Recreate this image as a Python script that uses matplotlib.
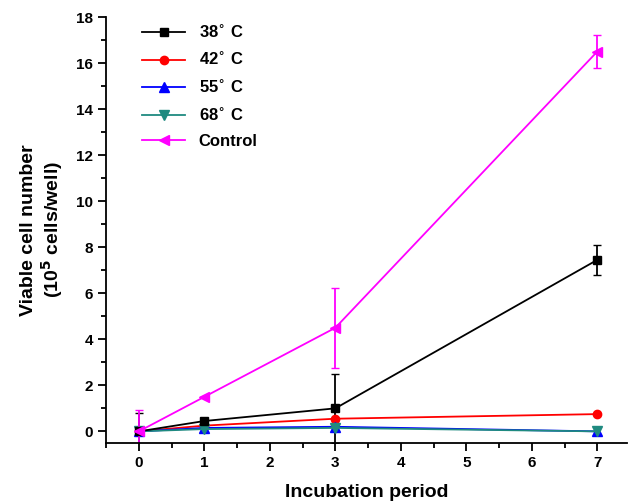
import numpy as np
import matplotlib
matplotlib.use("Agg")
import matplotlib.pyplot as plt
from matplotlib.ticker import MultipleLocator

plt.rcParams['font.family'] = ['Liberation Sans', 'DejaVu Sans']
plt.rcParams['font.weight'] = 'bold'

# incubation days
days = [0, 1, 3, 7]

t38 = [0.0, 0.45, 1.0, 7.45]
t38_err = [0.8, 0.0, 1.5, 0.65]
t42 = [0.0, 0.25, 0.55, 0.75]
t55 = [0.0, 0.15, 0.2, 0.0]
t68 = [0.0, 0.1, 0.15, 0.0]
ctrl = [0.0, 1.5, 4.5, 16.5]
ctrl_err = [0.95, 0.0, 1.75, 0.7]

labels = ['38$^{\\circ}$ C', '42$^{\\circ}$ C', '55$^{\\circ}$ C', '68$^{\\circ}$ C', 'Control']

fig = plt.figure(figsize=(6.28, 5.01), dpi=100)
ax = fig.add_axes([0.169, 0.116, 0.829, 0.85])

e38 = ax.errorbar(days, t38, yerr=t38_err, color='black', marker='s', ms=6,
                  lw=1.3, capsize=3, elinewidth=1.3)
l42, = ax.plot(days, t42, color='red', marker='o', ms=6, lw=1.3)
l55, = ax.plot(days, t55, color='blue', marker='^', ms=7, lw=1.3)
l68, = ax.plot(days, t68, color='#1f8a80', marker='v', ms=7, lw=1.3)
ectl = ax.errorbar(days, ctrl, yerr=ctrl_err, color='#ff00ff', marker='<', ms=7,
                   lw=1.3, capsize=3, elinewidth=1.3)

ax.set_xlim(-0.5, 7.45)
ax.set_ylim(-0.5, 18)
ax.xaxis.set_major_locator(MultipleLocator(1))
ax.xaxis.set_minor_locator(MultipleLocator(0.5))
ax.yaxis.set_major_locator(MultipleLocator(2))
ax.yaxis.set_minor_locator(MultipleLocator(1))
ax.tick_params(which='major', direction='out', length=6, width=1.3, labelsize=11)
ax.tick_params(which='minor', direction='out', length=3.5, width=1.3)
for s in ['top', 'right']:
    ax.spines[s].set_visible(False)
for s in ['left', 'bottom']:
    ax.spines[s].set_linewidth(1.3)

ax.set_xlabel('Incubation period', fontsize=14, fontweight='bold', labelpad=10)
ax.set_ylabel('Viable cell number\n(10$^{5}$ cells/well)', fontsize=14,
              fontweight='bold', labelpad=8, linespacing=1.1)

ax.legend([e38[0], l42, l55, l68, ectl[0]], labels,
          loc='upper left', bbox_to_anchor=(0.04, 1.02), frameon=False,
          fontsize=12, handlelength=2.6, labelspacing=0.62)

fig.savefig('out.png', dpi=100)
